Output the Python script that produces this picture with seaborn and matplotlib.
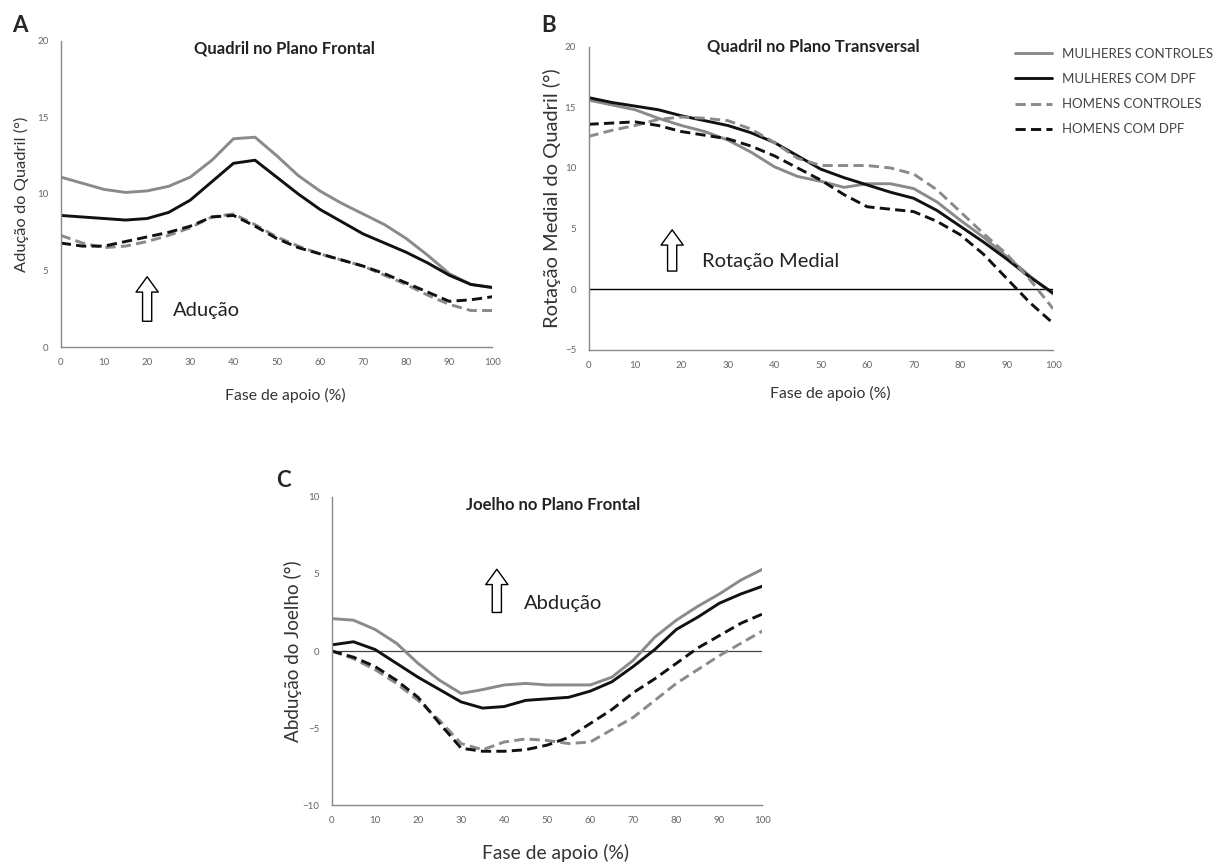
# Gait kinematics: hip frontal, hip transverse, knee frontal planes
import pandas as pd
import matplotlib.pyplot as plt
import seaborn as sns

sns.set_style("white")
plt.rcParams['font.family'] = ['Lato', 'DejaVu Sans']

# Data (stance phase 0-100 %, step 5)
fase = list(range(0, 101, 5))
grupos = ["MULHERES CONTROLES", "MULHERES COM DPF", "HOMENS CONTROLES", "HOMENS COM DPF"]

# A - Quadril no plano frontal (aducao)
quadril_frontal_mc = [11.1, 10.7, 10.3, 10.1, 10.2, 10.5, 11.1, 12.2, 13.6, 13.7, 12.5,
                      11.2, 10.2, 9.4, 8.7, 8.0, 7.1, 6.0, 4.8, 4.1, 3.9]
quadril_frontal_md = [8.6, 8.5, 8.4, 8.3, 8.4, 8.8, 9.6, 10.8, 12.0, 12.2, 11.1,
                      10.0, 9.0, 8.2, 7.4, 6.8, 6.2, 5.5, 4.7, 4.1, 3.9]
quadril_frontal_hc = [7.3, 6.8, 6.5, 6.6, 6.9, 7.3, 7.8, 8.5, 8.7, 8.0, 7.2,
                      6.6, 6.1, 5.7, 5.3, 4.7, 4.1, 3.4, 2.8, 2.4, 2.4]
quadril_frontal_hd = [6.8, 6.6, 6.6, 6.9, 7.2, 7.5, 7.9, 8.5, 8.6, 7.9, 7.1,
                      6.5, 6.1, 5.7, 5.3, 4.8, 4.2, 3.6, 3.0, 3.1, 3.3]

# B - Quadril no plano transversal (rotacao medial)
quadril_transv_mc = [15.6, 15.2, 14.8, 14.1, 13.5, 13.0, 12.3, 11.3, 10.1, 9.3, 8.9,
                     8.4, 8.7, 8.7, 8.3, 7.2, 5.7, 4.3, 2.7, 1.1, -0.4]
quadril_transv_md = [15.8, 15.4, 15.1, 14.8, 14.3, 13.9, 13.5, 12.9, 12.1, 11.0, 9.9,
                     9.2, 8.6, 8.0, 7.5, 6.5, 5.2, 3.9, 2.5, 1.0, -0.3]
quadril_transv_hc = [12.6, 13.1, 13.5, 14.0, 14.2, 14.1, 13.9, 13.2, 12.1, 10.8, 10.2,
                     10.2, 10.2, 10.0, 9.5, 8.2, 6.4, 4.6, 2.9, 0.8, -1.6]
quadril_transv_hd = [13.6, 13.7, 13.8, 13.5, 13.0, 12.7, 12.4, 11.8, 11.0, 10.0, 9.0,
                     7.8, 6.8, 6.6, 6.4, 5.6, 4.5, 2.9, 0.9, -1.1, -2.8]

# C - Joelho no plano frontal (abducao)
joelho_frontal_mc = [2.1, 2.0, 1.4, 0.5, -0.8, -1.9, -2.75, -2.5, -2.2, -2.1, -2.2,
                     -2.2, -2.2, -1.7, -0.6, 0.9, 2.0, 2.9, 3.7, 4.6, 5.3]
joelho_frontal_md = [0.4, 0.6, 0.1, -0.8, -1.7, -2.5, -3.3, -3.7, -3.6, -3.2, -3.1,
                     -3.0, -2.6, -2.0, -1.0, 0.1, 1.4, 2.2, 3.1, 3.7, 4.2]
joelho_frontal_hc = [0.0, -0.5, -1.2, -2.1, -3.2, -4.5, -6.0, -6.4, -5.9, -5.7, -5.8,
                     -6.0, -5.9, -5.1, -4.3, -3.2, -2.1, -1.2, -0.3, 0.5, 1.3]
joelho_frontal_hd = [0.0, -0.4, -1.0, -1.9, -3.0, -4.7, -6.3, -6.5, -6.5, -6.4, -6.1,
                     -5.6, -4.7, -3.8, -2.7, -1.8, -0.8, 0.2, 1.0, 1.8, 2.4]

cores = {grupos[0]: "#8a8a8a", grupos[1]: "#111111", grupos[2]: "#8a8a8a", grupos[3]: "#111111"}
tracos = {grupos[0]: "", grupos[1]: "", grupos[2]: (3.5, 1.8), grupos[3]: (3.5, 1.8)}


def long_df(series):
    rows = []
    for g, vals in zip(grupos, series):
        for x, v in zip(fase, vals):
            rows.append({"fase": x, "valor": v, "grupo": g})
    return pd.DataFrame(rows)


def draw_panel(ax, series, ylim, yticks, title, title_pos, ylabel, ylabel_size, ylabel_x,
               xlabel_size, xlabel_y):
    df = long_df(series)
    sns.lineplot(data=df, x="fase", y="valor", hue="grupo", style="grupo",
                 palette=cores, dashes=tracos, linewidth=2.1, legend=False, ax=ax)
    ax.set_xlim(0, 100)
    ax.set_ylim(*ylim)
    ax.set_xticks(range(0, 101, 10))
    ax.set_yticks(yticks)
    for s in ["top", "right"]:
        ax.spines[s].set_visible(False)
    for s in ["left", "bottom"]:
        ax.spines[s].set_color("#888888")
        ax.spines[s].set_linewidth(1.0)
    ax.tick_params(axis="both", labelsize=7, labelcolor="#666666", colors="#888888",
                   direction="in", length=2.5, width=0.8)
    ax.tick_params(axis="x", pad=8)
    ax.tick_params(axis="y", pad=9)
    ax.text(title_pos[0], title_pos[1], title, transform=ax.transAxes, fontsize=12,
            fontweight="bold", ha="center", va="center", color="#222222")
    ax.set_xlabel("Fase de apoio (%)", fontsize=xlabel_size, color="#333333", va="center")
    ax.xaxis.set_label_coords(0.52, xlabel_y)
    ax.set_ylabel(ylabel, fontsize=ylabel_size, color="#333333", va="center")
    ax.yaxis.set_label_coords(ylabel_x, 0.5)


def hollow_arrow(ax, x, y0, y1, text, tx, ty):
    ax.annotate("", xy=(x, y1), xytext=(x, y0),
                arrowprops=dict(arrowstyle="simple,head_length=0.55,head_width=0.8,tail_width=0.33",
                                fc="white", ec="black", lw=1.0, mutation_scale=20,
                                shrinkA=0, shrinkB=0))
    ax.text(tx, ty, text, fontsize=14.5, va="center", ha="left", color="#222222")


fig = plt.figure(figsize=(12.16, 8.64), dpi=100)
axA = fig.add_axes([0.050, 0.598, 0.355, 0.355])
axB = fig.add_axes([0.484, 0.595, 0.382, 0.351])
axC = fig.add_axes([0.273, 0.068, 0.354, 0.357])

draw_panel(axA, [quadril_frontal_mc, quadril_frontal_md, quadril_frontal_hc, quadril_frontal_hd],
           (0, 20), [0, 5, 10, 15, 20], "Quadril no Plano Frontal", (0.519, 0.975),
           "Adução do Quadril (°)", 11.8, -0.090, 11.3, -0.156)
draw_panel(axB, [quadril_transv_mc, quadril_transv_md, quadril_transv_hc, quadril_transv_hd],
           (-5, 20), [-5, 0, 5, 10, 15, 20], "Quadril no Plano Transversal", (0.483, 1.0),
           "Rotação Medial do Quadril (°)", 14.5, -0.078, 11.3, -0.142)
draw_panel(axC, [joelho_frontal_mc, joelho_frontal_md, joelho_frontal_hc, joelho_frontal_hd],
           (-10, 10), [-10, -5, 0, 5, 10], "Joelho no Plano Frontal", (0.513, 0.974),
           "Abdução do Joelho (°)", 13.6, -0.090, 13.9, -0.156)

axB.axhline(0, color="black", linewidth=1.0, zorder=0)
axC.axhline(0, color="#444444", linewidth=0.9, zorder=0)

hollow_arrow(axA, 20, 1.7, 4.6, "Adução", 26, 2.4)
hollow_arrow(axB, 18, 1.5, 4.9, "Rotação Medial", 24.5, 2.3)
hollow_arrow(axC, 38.3, 2.5, 5.3, "Abdução", 44.5, 3.1)

# panel letters
fig.text(12 / 1216, 1 - 25 / 864, "A", fontsize=16, fontweight="bold", va="center")
fig.text(541 / 1216, 1 - 25 / 864, "B", fontsize=16, fontweight="bold", va="center")
fig.text(276 / 1216, 1 - 481 / 864, "C", fontsize=16, fontweight="bold", va="center")

# legend
handles = [plt.Line2D([], [], color=cores[g], lw=2.1,
                      dashes=tracos[g] if tracos[g] else (None, None)) for g in grupos]
leg = fig.legend(handles, grupos, loc="upper left", bbox_to_anchor=(1003 / 1216, 1 - 36 / 864),
                 frameon=False, fontsize=9.5, handlelength=2.8, labelspacing=1.0,
                 handletextpad=0.75)
for t in leg.get_texts():
    t.set_color("#444444")

fig.savefig("out.png", dpi=100)
